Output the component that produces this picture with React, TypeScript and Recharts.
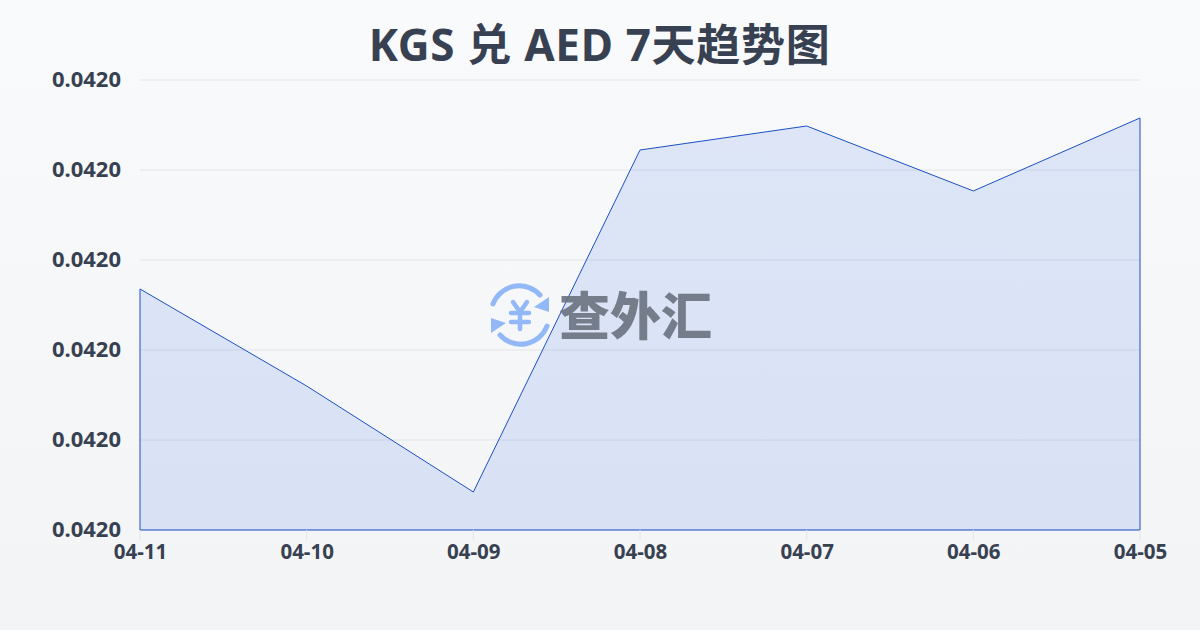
import React from 'react';
import { ComposedChart, Area, XAxis, YAxis, CartesianGrid, ReferenceLine } from 'recharts';

const dates = ['04-11', '04-10', '04-09', '04-08', '04-07', '04-06', '04-05'];
const rates = [0.04200678, 0.0419960, 0.04198422, 0.04202222, 0.04202489, 0.04201767, 0.04202578];
const yTicks = [0.04198, 0.04199, 0.042, 0.04201, 0.04202, 0.04203];
const title = 'KGS 兑 AED 7天趋势图';
const watermark = '查外汇';

const data = dates.map((date, i) => ({ date, rate: rates[i] }));
const font = '"Noto Sans", "Noto Sans CJK SC", sans-serif';
const line = '#1d4fc4';
const ink = '#374151';
const yMin = yTicks[0];
const yMax = yTicks[yTicks.length - 1];

export default function App() {
  return (
    <div style={{ position: 'fixed', left: 0, top: 0, width: 1200, height: 630, overflow: 'hidden', background: 'linear-gradient(180deg, #f9fafb 0%, #f3f4f6 100%)', fontFamily: font }}>
      <div style={{ position: 'absolute', left: 0, top: 14, width: 1199, textAlign: 'center', fontSize: 44, letterSpacing: 0.7, lineHeight: '60px', fontWeight: 700, color: ink }}>{title}</div>
      <ComposedChart width={1200} height={630} data={data} margin={{ top: 80, right: 60, bottom: 60, left: 60 }} style={{ position: 'absolute', left: 0, top: 0 }}>
        <CartesianGrid vertical={false} stroke="#e2e4e9" strokeWidth={1} />
        <XAxis dataKey="date" interval={0} height={40} axisLine={false} tickLine={{ stroke: '#e2e4e9' }} tickSize={10} tickMargin={0} scale="point" tick={{ fontSize: 20.5, fontWeight: 700, fill: ink, fontFamily: font, dy: 4, dx: 0.5 }} />
        <YAxis type="number" domain={[yMin, yMax]} ticks={yTicks} width={80} axisLine={false} tickLine={false} tickMargin={13} tick={{ fontSize: 22, fontWeight: 700, fill: ink, fontFamily: font, dy: -1 }} tickFormatter={(v: number) => v.toFixed(4)} allowDataOverflow />
        <Area type="linear" dataKey="rate" baseValue={yMin} stroke={line} strokeWidth={1} fill="#2563eb" fillOpacity={0.13} isAnimationActive={false} dot={false} activeDot={false} />
        <ReferenceLine segment={[{ x: dates[0], y: yMin }, { x: dates[0], y: rates[0] }]} stroke={line} strokeWidth={1} />
        <ReferenceLine segment={[{ x: dates[6], y: yMin }, { x: dates[6], y: rates[6] }]} stroke={line} strokeWidth={1} />
        <ReferenceLine segment={[{ x: dates[0], y: yMin }, { x: dates[6], y: yMin }]} stroke={line} strokeWidth={1} />
      </ComposedChart>
      <svg width={64} height={64} viewBox="0 0 64 64" style={{ position: 'absolute', left: 488, top: 283 }}>
        <g fill="none" stroke="#93b8f8" strokeWidth={5} strokeLinecap="round">
          <path d="M5 21 A28 28 0 0 1 52 12" />
          <path d="M59 43 A28 28 0 0 1 12 52" />
          <path d="M25 19 L32 29 L39 19 M32 29 V46 M23 30 H41 M23 39 H41" strokeWidth={4.5} />
        </g>
        <path d="M61 14 L61 29 L46 24 Z" fill="#93b8f8" />
        <path d="M3 50 L3 35 L18 40 Z" fill="#93b8f8" />
      </svg>
      <div style={{ position: 'absolute', left: 559, top: 277, fontSize: 51, lineHeight: '72px', fontWeight: 900, color: '#6b7280', opacity: 0.9, fontFamily: '"Noto Sans CJK SC", sans-serif', whiteSpace: 'nowrap' }}>{watermark}</div>
    </div>
  );
}
